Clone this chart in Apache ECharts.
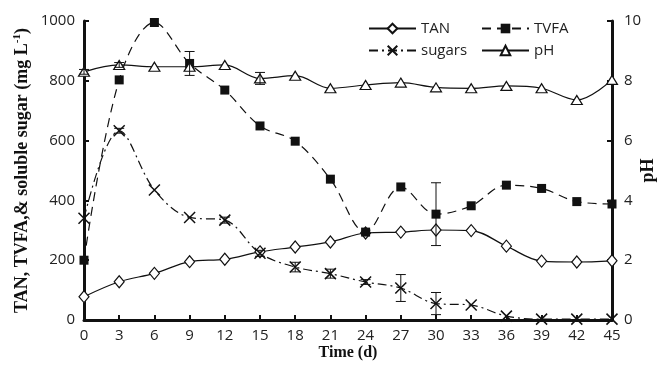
<!DOCTYPE html>
<html><head><meta charset="utf-8">
<script src="https://cdn.jsdelivr.net/npm/echarts@6/dist/echarts.min.js"></script>
<style>html,body{margin:0;padding:0;background:#fff}#c{width:665px;height:369px}</style>
</head><body><div id="c"></div>
<script>
// ---- data ----
const days   = [0,3,6,9,12,15,18,21,24,27,30,33,36,39,42,45];
const tan    = [78,128,156,195,203,228,244,261,291,294,301,299,247,197,194,198];
const tvfa   = [200,803,995,858,769,649,598,471,294,445,354,382,451,440,396,388];
const sugars = [340,633,435,343,334,223,177,155,127,107,55,50,13,3,3,3];
const ph     = [8.30,8.53,8.47,8.47,8.53,8.08,8.17,7.75,7.86,7.94,7.78,7.75,7.83,7.75,7.36,8.03];
const tvfaErr   = [0,0,0,40,0,0,0,0,0,0,105,0,0,0,0,0];
const sugarsErr = [0,8,0,0,10,10,16,15,8,45,37,0,0,0,0,0];
const phErr     = [0.08,0.08,0,0,0,0.2,0,0,0,0,0,0,0,0,0,0];
const leftTicks = [0,200,400,600,800,1000];
const rightTicks = [0,2,4,6,8,10];

const INK = '#111';
const FONT = 'Open Sans';
const SERIF = 'Liberation Serif';

function pairs(vals){ return days.map((d,i)=>[d, vals[i]]); }
function errData(vals, errs){
  const out = [];
  days.forEach((d,i)=>{ if (errs[i] > 0) out.push([d, vals[i], errs[i]]); });
  return out;
}
function errRender(params, api){
  const x = api.value(0), y = api.value(1), e = api.value(2);
  const top = api.coord([x, y + e]);
  const bot = api.coord([x, y - e]);
  const hw = 5;
  const st = {stroke: INK, lineWidth: 1};
  return {type:'group', children:[
    {type:'line', shape:{x1:top[0], y1:top[1], x2:bot[0], y2:bot[1]}, style:st},
    {type:'line', shape:{x1:top[0]-hw, y1:top[1], x2:top[0]+hw, y2:top[1]}, style:st},
    {type:'line', shape:{x1:bot[0]-hw, y1:bot[1], x2:bot[0]+hw, y2:bot[1]}, style:st}
  ]};
}

const chart = echarts.init(document.getElementById('c'), null, {renderer:'canvas'});
const axisLabel = {color:'#222', fontFamily:FONT, fontSize:15};
chart.setOption({
  animation:false,
  backgroundColor:'#fff',
  grid:{left:84, right:53, top:21, bottom:49, containLabel:false, outerBoundsMode:'none'},
  legend:[
    {orient:'vertical', left:363, top:16, itemWidth:47, itemHeight:12, itemGap:7,
     data:['TAN','sugars'], textStyle:{color:'#222', fontFamily:FONT, fontSize:15}},
    {orient:'vertical', left:476, top:16, itemWidth:47, itemHeight:12, itemGap:7,
     data:['TVFA','pH'], textStyle:{color:'#222', fontFamily:FONT, fontSize:15}}
  ],
  xAxis:{type:'value', min:0, max:45, interval:3,
    name:'Time (d)', nameLocation:'middle', nameGap:25, nameMoveOverlap:false,
    nameTextStyle:{fontFamily:SERIF, fontWeight:'bold', fontSize:16, color:INK},
    axisLine:{onZero:false, lineStyle:{color:INK, width:3}},
    axisTick:{inside:true, length:5, lineStyle:{color:INK, width:2}},
    axisLabel:Object.assign({margin:8}, axisLabel),
    splitLine:{show:false}},
  yAxis:[
    {type:'value', min:0, max:1000, interval:200,
     name:'{a|TAN, TVFA,& soluble sugar (mg L}{s|-1}{a|)}', nameLocation:'middle', nameGap:52, nameRotate:90,
     nameMoveOverlap:false,
     nameTextStyle:{rich:{
       a:{fontFamily:SERIF, fontWeight:'bold', fontSize:18, color:INK},
       s:{fontFamily:SERIF, fontWeight:'bold', fontSize:11, color:INK, verticalAlign:'top', padding:[0,0,9,0]}}},
     axisLine:{show:true, lineStyle:{color:INK, width:3}},
     axisTick:{show:true, inside:true, length:5, lineStyle:{color:INK, width:2}},
     axisLabel:Object.assign({margin:9, formatter:(v)=>String(v)}, axisLabel),
     splitLine:{show:false}},
    {type:'value', min:0, max:10, interval:2, position:'right',
     name:'pH', nameLocation:'middle', nameGap:27, nameRotate:90, nameMoveOverlap:false,
     nameTextStyle:{fontFamily:SERIF, fontWeight:'bold', fontSize:18, color:INK},
     axisLine:{show:true, lineStyle:{color:INK, width:3}},
     axisTick:{show:true, inside:true, length:5, lineStyle:{color:INK, width:2}},
     axisLabel:Object.assign({margin:12, formatter:(v)=>String(v)}, axisLabel),
     splitLine:{show:false}}
  ],
  series:[
    {name:'TAN', type:'line', data:pairs(tan), smooth:0.35, symbol:'diamond', symbolSize:[10,12],
     lineStyle:{color:INK, width:1.2, type:'solid'},
     itemStyle:{color:'#fff', borderColor:INK, borderWidth:1.2}, z:3},
    {name:'TVFA', type:'line', data:pairs(tvfa), smooth:0.35, symbol:'rect', symbolSize:9,
     lineStyle:{color:INK, width:1.2, type:[9,6]},
     itemStyle:{color:INK, borderColor:INK, borderWidth:0}, z:3},
    {name:'sugars', type:'line', data:pairs(sugars), smooth:0.35,
     symbol:'path://M0,0L10,10M0,10L10,0', symbolSize:11,
     lineStyle:{color:INK, width:1.2, type:[9,4,2,4]},
     itemStyle:{color:INK, borderColor:INK, borderWidth:1.5}, z:3},
    {name:'pH', type:'line', yAxisIndex:1, data:pairs(ph), smooth:0.35, symbol:'triangle', symbolSize:[11,9],
     lineStyle:{color:INK, width:1.2, type:'solid'},
     itemStyle:{color:'#fff', borderColor:INK, borderWidth:1.2}, z:3},
    {type:'custom', renderItem:errRender, data:errData(tvfa, tvfaErr), z:4, silent:true},
    {type:'custom', renderItem:errRender, data:errData(sugars, sugarsErr), z:4, silent:true},
    {type:'custom', renderItem:errRender, yAxisIndex:1, data:errData(ph, phErr), z:4, silent:true}
  ]
});
</script>
</body></html>
